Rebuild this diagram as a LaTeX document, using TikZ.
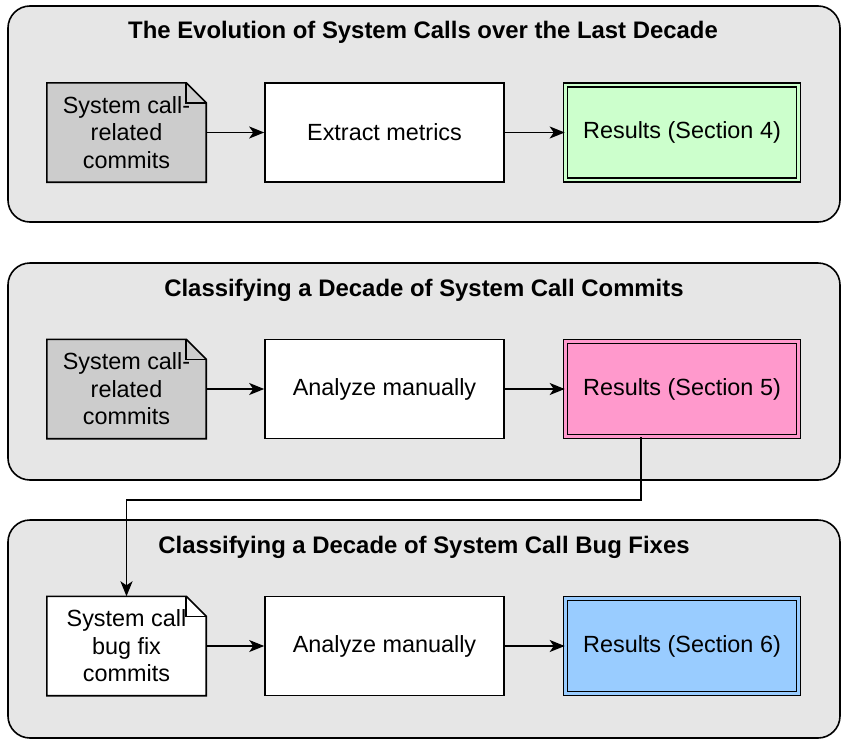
\documentclass[tikz,border=0pt]{standalone}
\usepackage{fontspec}
\setmainfont{Liberation Sans}
\usetikzlibrary{arrows.meta}
\definecolor{panelgray}{HTML}{E6E6E6}
\definecolor{docgray}{HTML}{CCCCCC}
\definecolor{resgreen}{HTML}{CCFFCC}
\definecolor{respink}{HTML}{FF99CC}
\definecolor{resblue}{HTML}{99CCFF}
\pgfdeclarelayer{bg}
\pgfdeclarelayer{mid}
\pgfsetlayers{bg,mid,main}
\tikzset{
  panel/.style={draw=black, line width=1.6pt, fill=panelgray, rounded corners=22pt},
  paneltitle/.style={font=\bfseries\fontsize{23.9}{28}\selectfont, inner sep=0pt},
  body/.style={font=\fontsize{23.4}{27.5}\selectfont, align=center, inner sep=0pt},
  box/.style={body, draw=black, line width=1.6pt, fill=white, minimum width=239pt, minimum height=99pt},
  docnode/.style={body, minimum width=159pt, minimum height=99pt},
  docshape/.style={draw=black, line width=1.6pt},
  resbox/.style={body, draw=black, line width=1.6pt, double distance=2.2pt, minimum width=233pt, minimum height=95pt},
  arr/.style={line width=1.8pt, -{Stealth[length=15pt,width=12pt,inset=4pt]}},
  thinarr/.style={line width=1.1pt, -{Stealth[length=15pt,width=12pt,inset=4pt]}},
}
\newcommand{\docpath}[2]{%
  \begin{pgfonlayer}{mid}
  \draw[docshape, fill=#2] (#1.north west) -- ([xshift=-20pt]#1.north east)
    -- ([yshift=-20pt]#1.north east) -- (#1.south east) -- (#1.south west) -- cycle;
  \draw[docshape] ([xshift=-20pt]#1.north east) -- ([xshift=-20pt,yshift=-20pt]#1.north east)
    -- ([yshift=-20pt]#1.north east);
  \end{pgfonlayer}}
\begin{document}
\begin{tikzpicture}[x=1pt,y=-1pt]
\useasboundingbox (0,0) rectangle (850,747);
\begin{pgfonlayer}{bg}
\draw[panel] (8,6) rectangle (840,222);
\draw[panel] (8,263) rectangle (840,480);
\draw[panel] (8,520) rectangle (840,738);
\end{pgfonlayer}
\node[paneltitle] (t1) at (423,32) {The Evolution of System Calls over the Last Decade};
\node[paneltitle] (t2) at (424,290) {Classifying a Decade of System Call Commits};
\node[paneltitle] (t3) at (424,547) {Classifying a Decade of System Call Bug Fixes};
% row 1
\node[docnode] (d1) at (126.5,132.5) {System call-\\related\\commits};
\docpath{d1}{docgray}
\node[box] (m1) at (384.5,132.5) {Extract metrics};
\node[resbox, double=resgreen, fill=resgreen] (r1) at (682,132.5) {Results (Section 4)};
\draw[arr] (d1) -- (m1);
\draw[arr] (m1) -- (r1);
% row 2
\node[docnode] (d2) at (126.5,389) {System call-\\related\\commits};
\docpath{d2}{docgray}
\node[box] (m2) at (384.5,389) {Analyze manually};
\node[resbox, double=respink, fill=respink] (r2) at (682,389) {Results (Section 5)};
\draw[arr] (d2) -- (m2);
\draw[arr] (m2) -- (r2);
% row 3
\node[docnode] (d3) at (126.5,646) {System call\\bug fix\\commits};
\docpath{d3}{white}
\node[box] (m3) at (384.5,646) {Analyze manually};
\node[resbox, double=resblue, fill=resblue] (r3) at (682,646) {Results (Section 6)};
\draw[thinarr] (d3) -- (m3);
\draw[arr] (m3) -- (r3);
% link
\coordinate (turn) at (641,500);
\draw[arr] (r2.south -| turn) -- (turn) -| (d3.north);
\end{tikzpicture}
\end{document}
